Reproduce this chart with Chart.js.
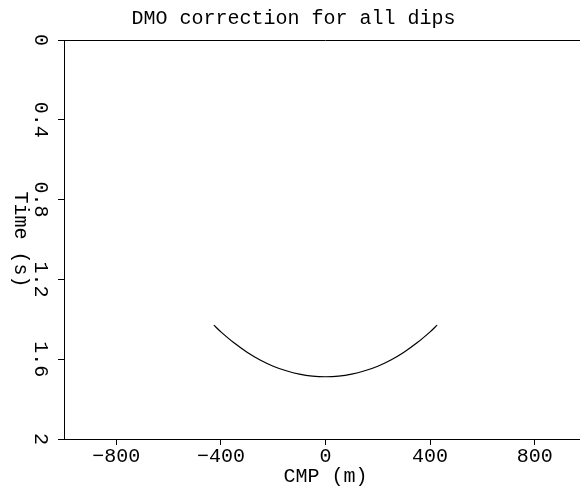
<!DOCTYPE html>
<html>
<head>
<meta charset="utf-8">
<script src="https://cdn.jsdelivr.net/npm/chart.js@4/dist/chart.umd.min.js"></script>
<style>
  html, body { margin: 0; padding: 0; overflow: hidden; background: #fff; }
</style>
</head>
<body>
<canvas id="dmo-chart" width="588" height="491"></canvas>
<script>
// CMP offset (m) and DMO-corrected time (s)
var cmp  = [-427, -400, -350, -300, -250, -200, -150, -100, -50, 0,
             50, 100, 150, 200, 250, 300, 350, 400, 427];
var time = [1.429, 1.463, 1.518, 1.565, 1.604, 1.635, 1.658, 1.675, 1.685, 1.688,
            1.685, 1.675, 1.658, 1.635, 1.604, 1.565, 1.518, 1.463, 1.429];

var xTicks = [-800, -400, 0, 400, 800];
var yTicks = [0, 0.4, 0.8, 1.2, 1.6, 2];

var points = cmp.map(function (x, i) { return { x: x, y: time[i] }; });

Chart.defaults.font.family = "'Liberation Mono', monospace";
Chart.defaults.font.size = 20;
Chart.defaults.color = '#000';

// top/right frame lines and the clockwise y-axis title
var framePlugin = {
    id: 'frame',
    afterDraw: function (chart) {
        var ctx = chart.ctx, a = chart.chartArea;
        ctx.save();
        ctx.strokeStyle = '#000';
        ctx.lineWidth = 1;
        ctx.beginPath();
        ctx.moveTo(a.left, a.top + 0.5);
        ctx.lineTo(a.right, a.top + 0.5);
        ctx.lineTo(a.right - 0.5, a.bottom);
        ctx.stroke();

        ctx.translate(20, (a.top + a.bottom) / 2);
        ctx.rotate(Math.PI / 2);
        ctx.font = "20px 'Liberation Mono', monospace";
        ctx.fillStyle = '#000';
        ctx.textAlign = 'center';
        ctx.textBaseline = 'middle';
        ctx.fillText('Time (s)', 0, 0);
        ctx.restore();
    }
};

var canvas = document.getElementById('dmo-chart');

var lineChart = new Chart(canvas, {
    type: 'scatter',
    data: {
        datasets: [{
            label: 'DMO',
            data: points,
            showLine: true,
            borderColor: '#000',
            borderWidth: 1.2,
            pointRadius: 0,
            tension: 0.3,
            fill: false
        }]
    },
    options: {
        responsive: false,
        animation: false,
        layout: { padding: { right: 1 } },
        plugins: {
            legend: { display: false },
            tooltip: { enabled: false },
            title: {
                display: true,
                text: 'DMO correction for all dips',
                font: { size: 20, weight: 'normal' },
                color: '#000',
                padding: { top: 7, bottom: 9 }
            }
        },
        scales: {
            x: {
                type: 'linear',
                position: 'bottom',
                min: -1000,
                max: 1000,
                afterBuildTicks: function (s) {
                    s.ticks = xTicks.map(function (v) { return { value: v }; });
                },
                afterFit: function (s) { s.height = 52; },
                ticks: {
                    autoSkip: false,
                    maxRotation: 0,
                    padding: 0,
                    callback: function (v) {
                        return v < 0 ? '\u2212' + Math.abs(v) : String(v);
                    }
                },
                grid: { drawOnChartArea: false, drawTicks: true, tickLength: 6, color: '#000' },
                border: { display: true, color: '#000', width: 1 },
                title: { display: true, text: 'CMP (m)', padding: { top: 0, bottom: 2 } }
            },
            y: {
                type: 'linear',
                position: 'left',
                reverse: true,
                min: 0,
                max: 2,
                afterBuildTicks: function (s) {
                    s.ticks = yTicks.map(function (v) { return { value: v }; });
                },
                afterFit: function (s) { s.width = 64; },
                ticks: {
                    autoSkip: false,
                    minRotation: -90,
                    maxRotation: -90,
                    crossAlign: 'center',
                    padding: 0,
                    callback: function (v) { return String(v); }
                },
                grid: { drawOnChartArea: false, drawTicks: true, tickLength: 6, color: '#000' },
                border: { display: true, color: '#000', width: 1 }
            }
        }
    },
    plugins: [framePlugin]
});
</script>
</body>
</html>
